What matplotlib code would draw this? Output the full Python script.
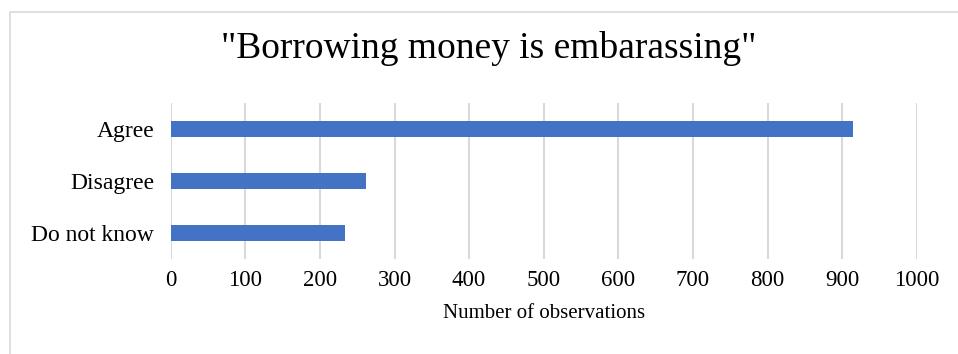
import matplotlib.pyplot as plt
from matplotlib.patches import Rectangle

plt.rcParams['font.family'] = ['Liberation Serif', 'DejaVu Serif']

categories = ["Agree", "Disagree", "Do not know"]
counts = [914, 262, 233]
xticks = [0, 100, 200, 300, 400, 500, 600, 700, 800, 900, 1000]

fig = plt.figure(figsize=(9.58, 3.54), dpi=100)
ax = fig.add_axes([0.1782, 0.2684, 0.9569 - 0.1782, 0.709 - 0.2684])

ypos = list(range(len(categories)))
ax.barh(ypos, counts, height=0.31, color="#4472C4", zorder=3)
ax.set_ylim(2.5, -0.5)
ax.set_xlim(0, 1000)
ax.set_yticks(ypos)
ax.set_yticklabels(categories, fontsize=17)
ax.set_xticks(xticks)
ax.set_xticklabels([str(t) for t in xticks], fontsize=16.5)
ax.tick_params(length=0, pad=12, axis="y")
ax.tick_params(length=0, pad=8, axis="x")
ax.grid(axis="x", color="#D9D9D9", linewidth=1.5, zorder=0)
for s in ax.spines.values():
    s.set_visible(False)
ax.set_xlabel("Number of observations", fontsize=15, labelpad=9)

fig.text(489 / 958, 1 - 48 / 354, '"Borrowing money is embarassing"', ha="center", va="center", fontsize=27)

# outer chart border
fig.patches.append(Rectangle((9.5 / 958, -0.01), 1.0, 1 - 12 / 354 + 0.01, transform=fig.transFigure,
                             fill=False, edgecolor="#D9D9D9", linewidth=1.2))

fig.savefig("out.png", dpi=100)
